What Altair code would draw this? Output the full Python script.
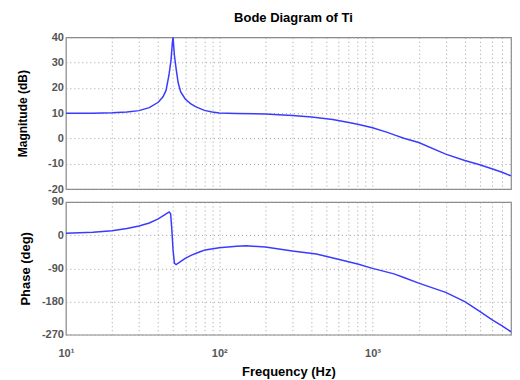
import altair as alt
import pandas as pd

# Magnitude response (Hz, dB)
mag_freq = [10, 15, 20, 25, 30, 35, 40, 43, 45, 47, 48.5, 49.5, 50, 51, 52.5, 54, 56,
            60, 65, 70, 80, 90, 100, 130, 200, 300, 400, 550, 700, 800, 1000, 1250,
            1400, 1600, 2000, 3000, 4000, 5000, 6000, 7000, 8000]
mag_db = [10.0, 10.0, 10.2, 10.5, 11.0, 12.2, 14.3, 16.5, 19.0, 25.0, 31.0, 38.0, 40.0,
          33.0, 27.0, 22.0, 18.5, 15.6, 13.8, 12.6, 11.1, 10.5, 10.1, 9.9, 9.7, 9.1,
          8.5, 7.5, 6.3, 5.6, 4.2, 2.4, 1.3, 0.1, -1.6, -6.2, -8.7, -10.4, -12.0,
          -13.4, -14.8]

# Phase response (Hz, deg)
phase_freq = [10, 15, 20, 25, 30, 35, 40, 44, 47.2, 48.2, 49, 50, 51, 52.3, 55, 60, 66,
              75, 81, 100, 130, 150, 200, 300, 430, 570, 800, 1000, 1380, 1600, 2000,
              3000, 4000, 5000, 6000, 7000, 8000]
phase_deg = [5, 8, 12, 18, 25, 33, 44, 55, 63, 58, 20, -40, -76, -80, -74, -63, -54,
             -45, -40, -34, -30, -29, -32, -43, -51, -63, -78, -90, -105, -115, -130,
             -155, -180, -207, -229, -246, -262]

x_grid = [10, 20, 30, 40, 50, 60, 70, 80, 90,
          100, 200, 300, 400, 500, 600, 700, 800, 900,
          1000, 2000, 3000, 4000, 5000, 6000, 7000, 8000]
mag_ticks = [-20, -10, 0, 10, 20, 30, 40]
phase_ticks = [-270, -180, -90, 0, 90]

mag_df = pd.DataFrame({"f": mag_freq, "v": mag_db})
phase_df = pd.DataFrame({"f": phase_freq, "v": phase_deg})

FONT = "Liberation Sans"
LINE = "#3b3bff"
LABEL = "#555555"
GRID = dict(grid=True, gridColor="#a0a0a0", gridDash=[1, 3], gridWidth=1)
YLAB = dict(ticks=False, domain=False, labelFont=FONT, labelFontSize=11,
            labelFontWeight="bold", labelColor=LABEL, labelPadding=2.5,
            labelExpr="'' + datum.value", titleFont=FONT, titleFontWeight="bold",
            titleColor="#000000")

x_scale = alt.Scale(type="log", domain=[10, 8000], nice=False)

top = alt.Chart(mag_df).mark_line(color=LINE, strokeWidth=1.5, clip=True).encode(
    x=alt.X("f:Q", scale=x_scale,
            axis=alt.Axis(values=x_grid, labels=False, ticks=False, domain=False,
                          title=None, **GRID)),
    y=alt.Y("v:Q", scale=alt.Scale(domain=[-20, 40], nice=False),
            axis=alt.Axis(values=mag_ticks, title="Magnitude (dB)", titleFontSize=12,
                          titleX=-36, **YLAB, **GRID)),
).properties(
    width=446, height=152,
    title=alt.TitleParams("Bode Diagram of Ti", font=FONT, fontSize=13,
                          fontWeight="bold", color="#000000", anchor="middle",
                          frame="group", offset=6, dx=5),
)

bottom = alt.Chart(phase_df).mark_line(color=LINE, strokeWidth=1.5, clip=True).encode(
    x=alt.X("f:Q", scale=x_scale,
            axis=alt.Axis(values=x_grid, ticks=False, domain=False,
                          labelExpr="datum.value == 10 ? '10¹' : datum.value == 100 ? '10²' : datum.value == 1000 ? '10³' : ''",
                          labelFlush=False, labelOverlap=False,
                          labelFont=FONT, labelFontSize=11, labelFontWeight="bold",
                          labelColor=LABEL, labelPadding=12.5,
                          title="Frequency  (Hz)", titleFont=FONT, titleFontSize=13,
                          titleFontWeight="bold", titleColor="#000000",
                          titleY=31, **GRID)),
    y=alt.Y("v:Q", scale=alt.Scale(domain=[-270, 90], nice=False),
            axis=alt.Axis(values=phase_ticks, title="Phase (deg)", titleFontSize=13,
                          titleX=-33.5, **YLAB, **GRID)),
).properties(width=446, height=133)

chart = alt.vconcat(top, bottom, spacing=0).properties(
    padding={"left": 8, "top": 3, "right": 0, "bottom": 0},
    background="white",
).configure_view(stroke="#888888", strokeWidth=1.2)

chart.save("out.html", embed_options={"renderer": "svg", "actions": False})
